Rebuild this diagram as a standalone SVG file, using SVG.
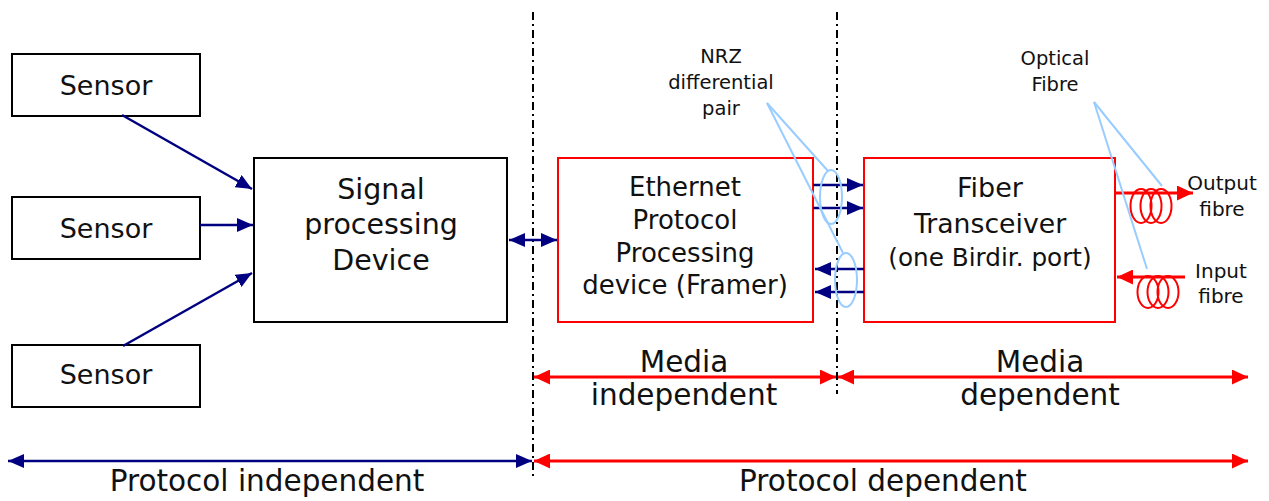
<svg xmlns="http://www.w3.org/2000/svg" width="1269" height="501" viewBox="0 0 1269 501">
  <style>
    .box { fill: #ffffff; stroke: #000000; stroke-width: 2; }
    .rbox { fill: #ffffff; stroke: #ff0000; stroke-width: 2; }
    .t { font-family: "DejaVu Sans", "Liberation Sans", sans-serif; fill: #111111; text-anchor: middle; }
    .big { font-size: 27px; }
    .sp { font-size: 28.5px; }
    .mid { font-size: 26px; }
    .ext { font-size: 29.5px; }
    .sm { font-size: 19.5px; }
    .fb { font-size: 20px; }
    .navy { stroke: #000080; stroke-width: 2.5; fill: none; }
    .red { stroke: #ff0000; stroke-width: 3; fill: none; }
    .callout { stroke: #99ccff; stroke-width: 2; fill: none; }
    .coil { stroke: #ff0000; stroke-width: 2; fill: none; }
    .divider { stroke: #000000; stroke-width: 2; stroke-dasharray: 8 4 2 4; fill: none; }
  </style>
  <defs>
    <marker id="headNavy" markerUnits="userSpaceOnUse" markerWidth="16" markerHeight="14" refX="16" refY="7" orient="auto-start-reverse">
      <path d="M0,0 L16,7 L0,14 z" fill="#000080"/>
    </marker>
    <marker id="headRed" markerUnits="userSpaceOnUse" markerWidth="16" markerHeight="15" refX="16" refY="7.5" orient="auto-start-reverse">
      <path d="M0,0 L16,7.5 L0,15 z" fill="#ff0000"/>
    </marker>
  </defs>

  <rect width="1269" height="501" fill="#ffffff"/>

  <!-- section dividers -->
  <g id="dividers">
    <line class="divider" x1="533" y1="12" x2="533" y2="476"/>
    <line class="divider" x1="837" y1="12" x2="837" y2="394"/>
  </g>

  <!-- nodes -->
  <g id="sensor1">
    <rect class="box" x="12" y="54" width="188" height="62"/>
    <text class="t big" x="106" y="95">Sensor</text>
  </g>
  <g id="sensor2">
    <rect class="box" x="12" y="197" width="188" height="62"/>
    <text class="t big" x="106" y="238">Sensor</text>
  </g>
  <g id="sensor3">
    <rect class="box" x="12" y="345" width="188" height="62"/>
    <text class="t big" x="106" y="384">Sensor</text>
  </g>
  <g id="signal-processing">
    <rect class="box" x="254" y="158" width="253" height="164"/>
    <text class="t sp" x="381" y="199">Signal</text>
    <text class="t sp" x="381" y="234">processing</text>
    <text class="t sp" x="381" y="270">Device</text>
  </g>
  <g id="framer">
    <rect class="rbox" x="558" y="158" width="255" height="164"/>
    <text class="t mid" x="685" y="196">Ethernet</text>
    <text class="t mid" x="685" y="229">Protocol</text>
    <text class="t mid" x="685" y="262">Processing</text>
    <text class="t mid" x="685" y="294">device (Framer)</text>
  </g>
  <g id="transceiver">
    <rect class="rbox" x="864" y="158" width="251" height="164"/>
    <text class="t big" x="990" y="197">Fiber</text>
    <text class="t" style="font-size:26.7px" x="990" y="233">Transceiver</text>
    <text class="t" style="font-size:24.7px" x="990" y="266">(one Birdir. port)</text>
  </g>

  <!-- fibre coils -->
  <g id="output-coil">
    <ellipse class="coil" cx="1141" cy="206" rx="10.5" ry="17"/>
    <ellipse class="coil" cx="1151" cy="206" rx="10.5" ry="17"/>
    <ellipse class="coil" cx="1161" cy="206" rx="10.5" ry="17"/>
  </g>
  <g id="input-coil">
    <ellipse class="coil" cx="1148" cy="292" rx="10.5" ry="16"/>
    <ellipse class="coil" cx="1158" cy="292" rx="10.5" ry="16"/>
    <ellipse class="coil" cx="1168" cy="292" rx="10.5" ry="16"/>
  </g>

  <!-- connectors -->
  <g id="connectors">
    <line class="navy" x1="122" y1="115" x2="252" y2="189" marker-end="url(#headNavy)"/>
    <line class="navy" x1="200" y1="225" x2="253" y2="225" marker-end="url(#headNavy)"/>
    <line class="navy" x1="123" y1="346" x2="252" y2="273" marker-end="url(#headNavy)"/>
    <line class="navy" x1="509" y1="240" x2="557" y2="240" marker-start="url(#headNavy)" marker-end="url(#headNavy)"/>
    <line class="navy" x1="813" y1="185" x2="863" y2="185" marker-end="url(#headNavy)"/>
    <line class="navy" x1="813" y1="208" x2="863" y2="208" marker-end="url(#headNavy)"/>
    <line class="navy" x1="864" y1="269" x2="815" y2="269" marker-end="url(#headNavy)"/>
    <line class="navy" x1="864" y1="292" x2="815" y2="292" marker-end="url(#headNavy)"/>
    <line class="red" x1="1116" y1="193" x2="1193" y2="193" marker-end="url(#headRed)"/>
    <line class="red" x1="1185" y1="277" x2="1117" y2="277" marker-end="url(#headRed)"/>
  </g>

  <!-- callouts -->
  <g id="nrz-callout">
    <ellipse class="callout" cx="831" cy="197" rx="11" ry="27"/>
    <ellipse class="callout" cx="846" cy="280" rx="11" ry="27"/>
    <line class="callout" x1="767" y1="103" x2="828" y2="171"/>
    <line class="callout" x1="767" y1="103" x2="843" y2="253"/>
    <text class="t sm" x="721" y="63">NRZ</text>
    <text class="t sm" x="721" y="89">differential</text>
    <text class="t sm" x="721" y="115">pair</text>
  </g>
  <g id="fibre-callout">
    <line class="callout" x1="1094" y1="102" x2="1162" y2="186"/>
    <line class="callout" x1="1094" y1="102" x2="1147" y2="269"/>
    <text class="t sm" x="1055" y="65">Optical</text>
    <text class="t sm" x="1055" y="91">Fibre</text>
  </g>
  <g id="fibre-labels">
    <text class="t fb" x="1222" y="190">Output</text>
    <text class="t fb" x="1222" y="216">fibre</text>
    <text class="t fb" x="1221" y="278">Input</text>
    <text class="t fb" x="1221" y="303">fibre</text>
  </g>

  <!-- extent arrows -->
  <g id="extents">
    <line class="red" x1="534" y1="377" x2="836" y2="377" marker-start="url(#headRed)" marker-end="url(#headRed)"/>
    <line class="red" x1="838" y1="377" x2="1248" y2="377" marker-start="url(#headRed)" marker-end="url(#headRed)"/>
    <line class="navy" x1="8" y1="461" x2="532" y2="461" stroke-width="3" marker-start="url(#headNavy)" marker-end="url(#headNavy)"/>
    <line class="red" x1="534" y1="461" x2="1248" y2="461" marker-start="url(#headRed)" marker-end="url(#headRed)"/>
    <text class="t ext" x="684" y="372">Media</text>
    <text class="t ext" x="684" y="405">independent</text>
    <text class="t ext" x="1040" y="372">Media</text>
    <text class="t ext" x="1040" y="405">dependent</text>
    <text class="t ext" x="267" y="491">Protocol independent</text>
    <text class="t ext" x="883" y="491">Protocol dependent</text>
  </g>
</svg>
